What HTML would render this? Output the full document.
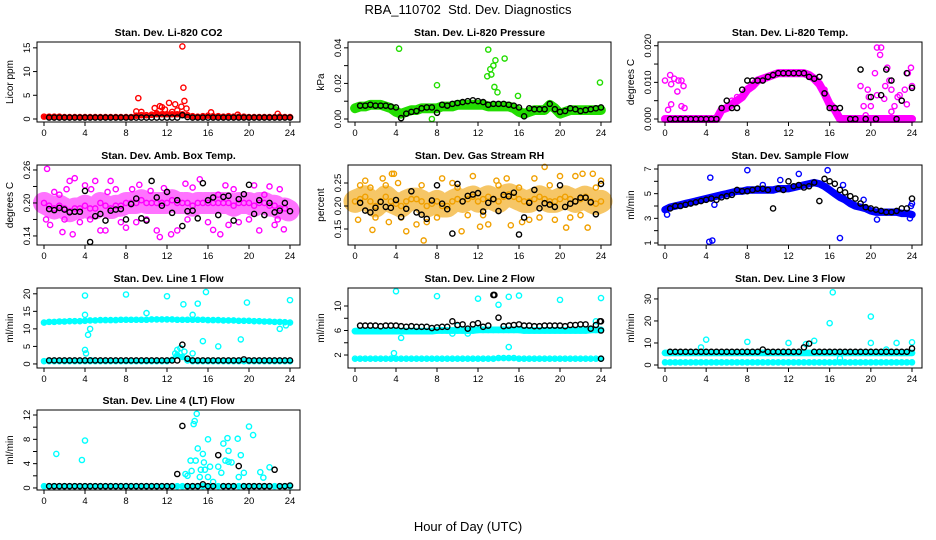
<!DOCTYPE html>
<html><head><meta charset="utf-8"><style>
html,body{margin:0;padding:0;background:#fff;}
svg{display:block;font-family:"Liberation Sans",sans-serif;}
</style></head><body>
<svg id="chart" width="936" height="540" viewBox="0 0 936 540" xmlns="http://www.w3.org/2000/svg">
<rect width="936" height="540" fill="#fff"/>
<text x="468" y="14" text-anchor="middle" font-size="13">RBA_110702&#160; Std. Dev. Diagnostics</text>
<text x="468" y="531" text-anchor="middle" font-size="13">Hour of Day (UTC)</text>
</svg>
<script>
// ---- data ----
const xTicks=[0,4,8,12,16,20,24];
const co2Main=[0.5,0.5,0.5,0.5,0.4,0.4,0.4,0.4,0.4,0.4,0.4,0.4,0.4,0.4,0.4,0.4,0.4,0.4,0.7,0.8,0.8,0.9,1.0,1.0,1.0,1.0,1.0,1.0,0.8,0.6,0.5,0.6,0.7,0.6,0.6,0.5,0.6,0.5,0.5,0.5,0.4,0.4,0.4,0.4,0.4,0.4,0.5,0.4,0.4];
const co2Black=[0.3,0.3,0.3,0.3,0.3,0.3,0.3,0.3,0.3,0.3,0.3,0.3,0.3,0.3,0.3,0.3,0.3,0.3,0.3,0.3,0.3,0.3,0.3,0.3,0.3,0.3,0.8,0.4,0.3,0.3,0.3,0.3,0.3,0.3,0.3,0.3,0.3,0.3,0.3,0.3,0.3,0.3,0.3,0.3,0.3,0.3,0.3,0.3];
const co2Out=[[9.2,4.4],[9.5,1.5],[9,1.6],[10.8,2.3],[11.3,2.7],[11.5,2.5],[12.2,3.4],[12.8,3.1],[13.4,2.6],[13.5,15.3],[13.6,6.6],[13.7,3.8],[13.9,2.2],[12.5,1.5],[11,1.2],[16.3,1.4],[22.8,1.1],[18.9,0.9],[13,1.8],[11.8,2.0]];
const presMain=[0.006,0.007,0.007,0.008,0.008,0.008,0.007,0.006,0.004,0.003,0.004,0.005,0.005,0.006,0.006,0.006,0.006,0.007,0.007,0.007,0.008,0.008,0.008,0.008,0.008,0.008,0.007,0.007,0.007,0.007,0.007,0.006,0.004,0.003,0.004,0.005,0.005,0.005,0.008,0.006,0.003,0.004,0.005,0.005,0.005,0.005,0.005,0.005,0.005];
const presBlack=[0.0075,0.0075,0.008,0.0075,0.0075,0.0075,0.007,0.0065,0.0005,0.003,0.004,0.0045,0.006,0.0065,0.0065,0.0035,0.008,0.0075,0.0085,0.009,0.0095,0.010,0.0105,0.010,0.0095,0.008,0.0085,0.0085,0.0085,0.008,0.0075,0.0065,0.0015,0.006,0.0055,0.0055,0.0055,0.0085,0.0055,0.004,0.0045,0.006,0.0055,0.0045,0.005,0.0055,0.006,0.0065];
const presOut=[[4.3,0.0395],[8,0.019],[12.9,0.024],[13,0.039],[13.2,0.028],[13.3,0.025],[13.5,0.030],[13.6,0.018],[13.7,0.033],[13.9,0.015],[14.6,0.034],[15.9,0.013],[23.9,0.0205],[7.5,0.0]];
const tempMain=[0,0,0,0,0,0,0,0,0,0,0,0.0025,0.003,0.004,0.005,0.006,0.008,0.009,0.0105,0.011,0.0115,0.012,0.0125,0.0125,0.0125,0.0125,0.0125,0.0125,0.012,0.011,0.0095,0.007,0.004,0.0025,0,0,0,0,0,0,0,0,0,0,0,0,0,0,0];
const tempBlack=[0,0,0,0,0,0,0,0,0,0,0.003,0.005,0.003,0.003,0.008,0.0105,0.0105,0.0105,0.0105,0.0115,0.012,0.0125,0.0125,0.0125,0.0125,0.0125,0.0125,0.0115,0.011,0.0115,0.007,0.003,0.003,0.003,null,0,0,0.0135,0,0.006,0,0.0065,0.0135,0.0105,0,0.005,0.0125,0.0085];
const tempOut=[[0,0.0105],[0.3,0.0025],[0.5,0.012],[0.6,0.0095],[0.9,0.011],[1.2,0.0075],[1.3,0.0105],[1.6,0.0105],[1.8,0.009],[1.6,0.0035],[1.9,0.003],[0.6,0.004],[19,0.009],[19.3,0.0035],[19.7,0.008],[19.8,0.006],[20,0.0035],[20.4,0.0125],[20.6,0.0195],[20.9,0.0175],[21,0.0195],[21.3,0.0055],[21.6,0.014],[21.4,0.009],[22,0.008],[22.3,0.0035],[22.6,0.006],[23,0.005],[23.3,0.008],[23.6,0.0125],[23.9,0.014],[24,0.009],[22.8,0.0065],[20.6,0.0065],[21.8,0.0105],[19.5,0.001],[22,0.002],[23.5,0.004],[6.5,0.005],[7,0.006],[15.5,0.008]];
const ambMain=[0.2,0.195,0.19,0.195,0.19,0.185,0.19,0.19,0.195,0.19,0.19,0.2,0.195,0.19,0.195,0.195,0.2,0.2,0.2,0.205,0.2,0.2,0.2,0.2,0.2,0.205,0.2,0.2,0.2,0.195,0.2,0.2,0.2,0.2,0.2,0.2,0.2,0.195,0.2,0.2,0.2,0.195,0.2,0.2,0.195,0.195,0.19,0.19,0.185];
const ambBlack=[0.189,0.187,0.191,0.188,0.183,0.184,0.184,0.222,0.129,0.176,0.18,0.168,0.186,0.188,0.189,0.17,0.198,0.208,0.172,0.168,0.24,0.21,0.195,0.22,0.182,0.205,0.158,0.185,0.186,0.172,0.236,0.205,0.21,0.178,0.211,0.213,0.168,0.207,0.216,0.233,0.18,0.205,0.178,0.2,0.183,0.186,0.2,0.185];
const ambOut=[[0.3,0.262],[0.6,0.16],[1.8,0.147],[2.2,0.225],[2.5,0.24],[2.8,0.143],[3,0.245],[4,0.232],[4.6,0.225],[5.5,0.15],[6,0.15],[6.5,0.24],[7,0.225],[8,0.155],[9.3,0.233],[10.4,0.222],[11,0.15],[11.3,0.138],[11.7,0.227],[12.4,0.143],[13,0.15],[14.5,0.228],[15.2,0.243],[16.5,0.151],[17.2,0.143],[17.7,0.232],[18,0.16],[20.5,0.232],[21,0.15],[22,0.23],[22.5,0.16],[23.4,0.152],[5,0.24],[13.8,0.235],[1,0.22],[0.2,0.17],[9,0.165],[19,0.165],[3.5,0.165],[2,0.17],[6.2,0.22],[8.6,0.225],[12,0.22],[14,0.17],[16,0.165],[18.5,0.225],[20,0.17],[23,0.225],[10,0.17],[1.5,0.215],[4.5,0.17],[7.5,0.165],[11.5,0.2],[17,0.215],[21.5,0.215],[22.8,0.17]];
const rhMain=[0.21,0.215,0.22,0.21,0.2,0.21,0.22,0.21,0.205,0.2,0.21,0.215,0.215,0.21,0.2,0.205,0.21,0.2,0.2,0.21,0.215,0.21,0.215,0.22,0.21,0.215,0.22,0.215,0.21,0.22,0.225,0.22,0.215,0.21,0.21,0.215,0.22,0.215,0.21,0.21,0.215,0.22,0.215,0.21,0.215,0.22,0.21,0.205,0.21];
const rhBlack=[0.207,0.19,0.186,0.196,0.209,0.198,0.196,0.213,0.176,0.194,0.232,0.186,0.181,0.172,0.212,0.245,0.205,0.193,0.14,0.248,0.21,0.222,0.225,0.228,0.188,0.207,0.215,0.189,0.224,0.221,0.229,0.138,0.175,0.207,0.235,0.195,0.206,0.203,0.198,0.245,0.198,0.205,0.21,0.218,0.218,0.208,0.182,0.248];
const rhOut=[[0.3,0.17],[1,0.255],[1.7,0.148],[2.7,0.26],[3.3,0.165],[3.6,0.27],[3.8,0.27],[4.2,0.25],[5,0.145],[6,0.16],[6.7,0.125],[7,0.165],[8.5,0.26],[10.4,0.145],[11.5,0.265],[12.2,0.155],[13,0.16],[13.8,0.255],[14.8,0.26],[15.2,0.158],[16.3,0.165],[17.5,0.26],[18.5,0.285],[19.5,0.17],[20,0.265],[20.6,0.153],[21.5,0.265],[22.2,0.27],[22.7,0.153],[23.2,0.27],[24,0.255],[8,0.175],[11,0.18],[3,0.245],[17,0.17],[0.5,0.245],[2,0.175],[9.5,0.25],[21,0.175],[1.5,0.24],[4.5,0.175],[6.5,0.245],[10,0.24],[12.5,0.18],[14,0.245],[16,0.24],[18,0.175],[19,0.245],[22,0.18],[23.5,0.24]];
const flowMain=[3.7,3.9,4.0,4.1,4.2,4.3,4.4,4.5,4.6,4.7,4.8,4.9,5.0,5.1,5.2,5.2,5.3,5.3,5.3,5.3,5.3,5.3,5.4,5.4,5.4,5.5,5.6,5.7,5.8,5.9,5.8,5.6,5.3,5.0,4.7,4.5,4.2,4.0,3.9,3.8,3.6,3.5,3.5,3.5,3.5,3.5,3.4,3.4,3.3];
const flowBlack=[3.8,4.0,4.0,4.1,4.2,4.3,4.4,4.5,4.6,4.5,4.7,4.8,4.9,5.3,5.2,5.2,5.3,5.4,5.4,5.3,3.8,5.4,5.3,6.0,5.6,5.7,5.5,5.6,5.9,4.4,6.2,6.0,5.8,5.3,5.1,4.8,4.6,4.2,3.9,3.8,3.7,3.6,3.5,3.5,3.6,3.8,3.8,4.6];
const flowOut=[[4.3,1.1],[4.6,1.2],[4.4,6.3],[4.8,4.1],[8,6.9],[11.2,6.1],[13,6.6],[15.8,6.9],[17,1.4],[17.3,5.7],[20.6,2.9],[24,4.2],[19.3,4.5],[9.5,5.7],[0.2,3.3],[23.8,3.0],[23.9,4.0]];
const l1Main=[11.8,12,12,12.1,12.1,12.2,12.2,12.2,12.3,12.4,12.4,12.5,12.5,12.5,12.5,12.6,12.6,12.6,12.6,12.6,12.6,12.7,12.7,12.7,12.7,12.7,12.6,12.6,12.6,12.6,12.6,12.6,12.5,12.5,12.5,12.4,12.4,12.4,12.3,12.3,12.3,12.2,12.2,12.1,12.1,12.0,12.0,11.9,11.8];
const l1Low=[0.8,0.8,0.8,0.8,0.8,0.8,0.8,0.8,0.8,0.8,0.8,0.8,0.8,0.8,0.8,0.8,0.8,0.8,0.8,0.8,0.8,0.8,0.8,0.8,0.8,1.2,2.5,2.0,1.0,0.8,0.8,0.8,0.8,0.8,0.8,0.8,0.8,0.8,0.8,0.8,0.8,0.8,0.8,0.8,0.8,0.8,0.8,0.8,0.8];
const l1Black=[1.0,1.0,1.0,1.0,1.0,1.0,1.0,1.0,1.0,1.0,1.0,1.0,1.0,1.0,1.0,1.0,1.0,1.0,1.0,1.0,1.0,1.0,1.0,1.0,1.0,1.0,5.5,1.5,1.0,1.0,1.0,1.0,1.0,1.0,1.0,1.0,1.0,1.0,1.3,1.0,1.0,1.0,1.0,1.0,1.0,1.0,1.0,1.0];
const l1Out=[[4,19.5],[8,19.8],[12,19.3],[13.6,17],[14.5,14],[15,17.2],[15.8,20.5],[19.8,17.5],[24,18.2],[4,14],[4.5,10],[4.3,8.3],[10,14.5],[15.5,6.5],[17,5],[19.2,7],[23,10],[23.6,11],[4,4],[4.1,3],[12.8,3],[13,4],[13.3,4.5],[13.7,3.5],[14.5,3],[4.6,1]];
const l2Main=[5.9,5.9,5.9,5.9,5.9,5.9,5.9,5.9,5.9,5.9,5.9,5.9,5.9,5.9,5.9,5.9,6.0,6.0,6.0,6.0,6.0,6.0,6.0,6.0,6.1,6.1,6.1,6.1,6.1,6.1,6.1,6.1,6.1,6.0,6.0,6.0,6.0,6.0,6.0,6.0,6.0,6.0,6.0,6.0,6.0,6.0,6.1,6.1,6.1];
const l2Low=[1.4,1.4,1.4,1.4,1.4,1.4,1.4,1.4,1.4,1.4,1.4,1.4,1.4,1.4,1.4,1.4,1.4,1.4,1.4,1.4,1.4,1.4,1.4,1.4,1.4,1.4,1.4,1.4,1.5,1.5,1.5,1.5,1.4,1.4,1.4,1.4,1.4,1.4,1.4,1.4,1.4,1.4,1.4,1.4,1.4,1.4,1.4,1.4,1.4];
const l2Black=[6.8,6.8,6.8,6.8,6.7,6.8,6.8,6.8,6.7,6.6,6.7,6.6,6.6,6.6,6.4,6.5,6.6,6.6,7.5,6.9,7.0,6.3,7.0,7.2,6.6,6.8,11.8,8.1,6.7,6.8,6.9,7.0,6.8,6.8,6.7,6.7,6.8,6.8,6.8,6.8,6.7,6.9,6.9,7.0,7.0,6.3,6.9,7.5];
const l2Out=[[4,12.4],[8,11.6],[12,11.2],[14,10.2],[15,11.5],[16,11.7],[20,11],[24,11.3],[3.8,2.3],[4.5,4.8],[15,3.3],[9.5,5.5],[11,5.5],[23.5,7.5],[10,6.8]];
const l2BlackOut=[[24,1.4],[24,6],[23.9,7.5],[13.6,11.8]];
const l3Main=[5.5,5.5,5.5,5.5,5.5,5.5,5.5,5.5,5.5,5.5,5.5,5.5,5.5,5.5,5.5,5.5,5.5,5.5,5.5,5.5,5.5,5.5,5.5,5.5,5.5,5.5,5.5,5.5,5.5,5.5,5.5,5.5,5.5,5.5,5.5,5.5,5.5,5.5,5.5,5.5,5.5,5.5,5.5,5.5,5.5,5.5,5.5,5.5,5.5];
const l3Low=[1.2,1.2,1.2,1.2,1.2,1.2,1.2,1.2,1.2,1.2,1.2,1.2,1.2,1.2,1.2,1.2,1.2,1.2,1.2,1.2,1.2,1.2,1.2,1.2,1.2,1.2,1.2,1.2,1.2,1.2,1.2,1.2,1.2,1.2,1.2,1.2,1.2,1.2,1.2,1.2,1.2,1.2,1.2,1.2,1.2,1.2,1.2,1.2,1.2];
const l3Black=[6,6,6,6,6,6,6,6,6,6,6,6,6,6,6,6,6,6,7,6,6,6,6,6,6,6,8,9.7,6,6,6,6,6,6,6,6,6,6,6,6,6,6,6,6,6,6,6,7.5];
const l3Out=[[4,11.5],[8,10.5],[12,10],[14.5,11],[16,19],[16.3,33],[20,22],[20,10],[22.5,10],[24,10.3],[3.5,8],[13.7,9.5],[17,3],[21.5,7]];
const l4Main=[0.3,0.3,0.3,0.3,0.3,0.3,0.3,0.3,0.3,0.3,0.3,0.3,0.3,0.3,0.3,0.3,0.3,0.3,0.3,0.3,0.3,0.3,0.3,0.3,0.3,0.3,0.3,0.3,0.3,0.3,0.3,0.3,0.3,0.3,0.3,0.3,0.3,0.3,0.3,0.3,0.3,0.3,0.3,0.3,0.3,0.3,0.3,0.3,0.3];
const l4Black=[0.3,0.3,0.3,0.3,0.3,0.3,0.3,0.3,0.3,0.3,0.3,0.3,0.3,0.3,0.3,0.3,0.3,0.3,0.3,0.3,0.3,0.3,0.3,0.3,0.3,2.3,10.2,0.3,0.3,0.3,0.6,0.3,0.3,5.4,0.3,0.3,0.3,3.6,0.3,0.3,0.3,0.3,0.3,0.3,3.0,0.3,0.3,0.4];
const l4Out=[[1.2,5.6],[3.7,4.6],[4,7.8],[13.8,2.3],[14,2],[14.3,4.5],[14.4,2.8],[14.7,11],[14.8,4.5],[14.9,12.2],[15,6.5],[15.2,1.8],[15.3,3],[15.5,5.6],[15.6,4.2],[15.7,3],[16,8],[16,1.8],[16.2,3.5],[16.5,1],[17,3.5],[17.3,2.5],[17.5,7.3],[17.7,4.5],[17.9,8.2],[18,4.3],[18,6.1],[18.3,4.2],[18.9,8.1],[19,1.8],[19.2,5.4],[19.5,2.5],[20,10.1],[20.4,8.7],[21.1,2.6],[21.4,1.7],[22,3.4],[14.6,10.5]];

// y tick definitions
const co2Ticks=[0,5,10,15], co2Labels=["0","5","10","15"];
const presTicks=[0,0.01,0.02,0.03,0.04], presLabels=["0.00","","0.02","","0.04"];
const tempTicks=[0,0.005,0.01,0.015,0.02], tempLabels=["0.000","","0.010","","0.020"];
const ambTicks=[0.14,0.17,0.2,0.23,0.26], ambLabels=["0.14","","0.20","","0.26"];
const rhTicks=[0.15,0.2,0.25], rhLabels=["0.15","0.20","0.25"];
const flowTicks=[1,2,3,4,5,6,7], flowLabels=["1","","3","","5","","7"];
const l1Ticks=[0,5,10,15,20], l1Labels=["0","5","10","15","20"];
const l2Ticks=[2,4,6,8,10], l2Labels=["2","","6","","10"];
const l3Ticks=[0,10,20,30], l3Labels=["0","10","20","30"];
const l4Ticks=[0,2,4,6,8,10,12], l4Labels=["0","","4","","8","","12"];

const HOURS=[];for(let i=0;i<=48;i++)HOURS.push(i/2);
const BHOURS=[];for(let i=1;i<=48;i++)BHOURS.push(i/2);

const NS="http://www.w3.org/2000/svg";
const svg=document.getElementById('chart');
const COLX0=[37,348,658],COLX1=[300,611,922],ROWY0=[42,165,288,410],PH=80;
function mk(tag,attrs,parent){const e=document.createElementNS(NS,tag);for(const k in attrs)e.setAttribute(k,attrs[k]);(parent||svg).appendChild(e);return e;}

function panel(p){
  const x0=COLX0[p.col],x1=COLX1[p.col],y0=ROWY0[p.row],y1=y0+PH;
  const g=mk('g',{});
  
  
  const xs=h=>x0+7+h*(x1-x0-17)/24;
  const ys=v=>(y1-3)-(v-p.dmin)/(p.dmax-p.dmin)*(PH-6);
  const t=mk('text',{x:(x0+x1)/2,y:y0-6,'text-anchor':'middle','font-size':'10.5','font-weight':'bold'},g);
  t.textContent=p.title;
  
  
  const yt=mk('text',{x:x0-24,y:(y0+y1)/2,'text-anchor':'middle','font-size':'10',transform:`rotate(-90 ${x0-24} ${(y0+y1)/2})`},g);
  yt.textContent=p.ylab;
  
  
  const dg=mk('g',{},g);
  
  
  function band(vals,col,w){
    let pts=[];for(let i=0;i<vals.length&&i<HOURS.length;i++){if(vals[i]!=null)pts.push(xs(HOURS[i]).toFixed(1)+','+ys(vals[i]).toFixed(1));}
    const pl=mk('polyline',{points:pts.join(' '),fill:'none',stroke:col,'stroke-width':Math.max(4,w*(PH-6)/(p.dmax-p.dmin)),'stroke-linecap':'round','stroke-linejoin':'round','stroke-opacity':p.bandOpacity||1},dg);
    if(p.dash)pl.setAttribute('stroke-dasharray',p.dash);
    
    
    for(let i=0;i<vals.length&&i<HOURS.length;i++){if(vals[i]==null)continue;
      const c=mk('circle',{cx:xs(HOURS[i]),cy:ys(vals[i]),r:2.6,fill:'none',stroke:col,'stroke-width':1.4},dg);
      
      }
  }
  function pts(list,col){
    for(const [h,v] of list){const c=mk('circle',{cx:xs(h),cy:ys(v),r:2.6,fill:'none',stroke:col,'stroke-width':1.4},dg);
      
      }
  }
  function blk(vals){
    for(let i=0;i<vals.length&&i<BHOURS.length;i++){if(vals[i]==null)continue;
      const c=mk('circle',{cx:xs(BHOURS[i]),cy:ys(vals[i]),r:2.6,fill:'none',stroke:'#000','stroke-width':1.4},dg);
      
      }
  }
  for(const b of p.bands)band(b[0],p.color,b[1]);
  if(p.out)pts(p.out,p.ocolor||p.color);
  blk(p.black);
  if(p.bout)pts(p.bout,'#000');
  const bx=mk('rect',{x:x0,y:y0,width:x1-x0,height:PH,fill:'none',stroke:'#000','stroke-width':1},g);
  
  
  for(const h of xTicks){const X=xs(h);
    mk('line',{x1:X,y1:y1,x2:X,y2:y1+4,stroke:'#000'},g);
    const tl=mk('text',{x:X,y:y1+14,'text-anchor':'middle','font-size':'9.5'},g);tl.textContent=h;
    
    }
  mk('line',{x1:xs(0),y1:y1,x2:xs(24),y2:y1,stroke:'#000'},g);
  p.ticks.forEach((v,i)=>{const Y=ys(v);
    mk('line',{x1:x0-4,y1:Y,x2:x0,y2:Y,stroke:'#000'},g);
    if(p.labels[i]){const tl=mk('text',{x:x0-7,y:Y,'text-anchor':'middle','font-size':'9.5',transform:`rotate(-90 ${x0-7} ${Y})`},g);tl.textContent=p.labels[i];
      
      }});
}

const panels=[
 {name:'co2',title:'Stan. Dev. Li-820 CO2',ylab:'Licor ppm',col:0,row:0,dmin:0,dmax:15.6,color:'#ff0000',bands:[[co2Main,0.5]],out:co2Out,black:co2Black,ticks:co2Ticks,labels:co2Labels},
 {name:'pressure',title:'Stan. Dev. Li-820 Pressure',ylab:'kPa',col:1,row:0,dmin:0,dmax:0.0416,color:'#22dd00',bands:[[presMain,0.0055]],out:presOut,black:presBlack,ticks:presTicks,labels:presLabels},
 {name:'temp',title:'Stan. Dev. Li-820 Temp.',ylab:'degrees C',col:2,row:0,dmin:0,dmax:0.0202,color:'#ff00ff',bands:[[tempMain,0.0022]],out:tempOut,black:tempBlack,ticks:tempTicks,labels:tempLabels},
 {name:'amb-box-temp',title:'Stan. Dev. Amb. Box Temp.',ylab:'degrees C',col:0,row:1,dmin:0.129,dmax:0.2636,color:'#ff00ff',bands:[[ambMain,0.04]],out:ambOut,black:ambBlack,ticks:ambTicks,labels:ambLabels,bandOpacity:0.55,dash:'5 2'},
 {name:'gas-rh',title:'Stan. Dev. Gas Stream RH',ylab:'percent',col:1,row:1,dmin:0.1217,dmax:0.2826,color:'#f0a000',ocolor:'#f0a000',bands:[[rhMain,0.05]],out:rhOut,black:rhBlack,ticks:rhTicks,labels:rhLabels,bandOpacity:0.6,dash:'5 2'},
 {name:'sample-flow',title:'Stan. Dev. Sample Flow',ylab:'ml/min',col:2,row:1,dmin:1.08,dmax:7.08,color:'#0000ff',bands:[[flowMain,0.6]],out:flowOut,black:flowBlack,ticks:flowTicks,labels:flowLabels},
 {name:'line1-flow',title:'Stan. Dev. Line 1 Flow',ylab:'ml/min',col:0,row:2,dmin:-0.3,dmax:20.8,color:'#00ffff',bands:[[l1Main,1.2],[l1Low,0.5]],out:l1Out,black:l1Black,ticks:l1Ticks,labels:l1Labels},
 {name:'line2-flow',title:'Stan. Dev. Line 2 Flow',ylab:'ml/min',col:1,row:2,dmin:0.37,dmax:12.45,color:'#00ffff',bands:[[l2Main,1.1],[l2Low,0.6]],out:l2Out,black:l2Black,bout:l2BlackOut,ticks:l2Ticks,labels:l2Labels},
 {name:'line3-flow',title:'Stan. Dev. Line 3 Flow',ylab:'ml/min',col:2,row:2,dmin:0,dmax:33.6,color:'#00ffff',bands:[[l3Main,3],[l3Low,2]],out:l3Out,black:l3Black,ticks:l3Ticks,labels:l3Labels},
 {name:'line4-flow',title:'Stan. Dev. Line 4 (LT) Flow',ylab:'ml/min',col:0,row:3,dmin:0.16,dmax:12.33,color:'#00ffff',bands:[[l4Main,0.6]],out:l4Out,black:l4Black,ticks:l4Ticks,labels:l4Labels}
];
panels.forEach(panel);
</script>
</body></html>
